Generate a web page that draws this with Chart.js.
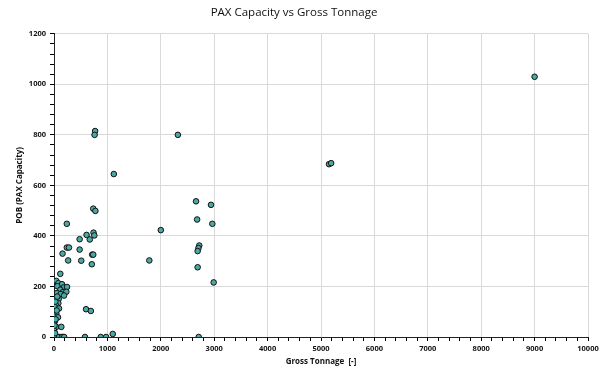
<!DOCTYPE html>
<html>
<head>
<meta charset="utf-8">
<script src="https://cdn.jsdelivr.net/npm/chart.js@4"></script>
<style>
  html, body { margin: 0; padding: 0; background: #fff; }
  #wrap { width: 611px; height: 374px; }
</style>
</head>
<body>
<div id="wrap"><canvas id="paxChart" width="611" height="374"></canvas></div>
<script>
// values (gross tonnage, POB)
const grossTonnage = [
  9000, 770, 760, 2320, 1120, 5150, 5190,
  2660, 2940, 2680, 2965, 2000, 2720, 2705, 2690, 2690, 1785, 2990, 2710,
  735, 775, 240, 610, 740, 755, 670, 480,
  240, 280, 160, 480, 265, 510, 715, 735, 708, 118,
  600, 690, 580, 875, 975, 1100,
  43, 81, 150, 62, 182, 244, 118, 169, 231, 56, 126, 188, 32, 88, 13, 81,
  43, 13, 94, 13, 43, 0, 75, 19, 0, 43, 137, 0, 0, 32, 169, 110, 150, 190,
  60, 0, 20, 10, 30, 50, 25, 60
];
const paxCapacity = [
  1030, 815, 800, 800, 645, 684, 688,
  537, 523, 465, 448, 423, 362, 352, 340, 276, 303, 216, 0,
  508, 499, 448, 404, 413, 402, 386, 387,
  354, 354, 330, 346, 303, 302, 326, 326, 288, 250,
  110, 103, 0, 0, 0, 12,
  222, 213, 209, 201, 196, 198, 187, 178, 179, 174, 170, 164, 157, 151, 137, 134,
  124, 119, 113, 101, 93, 81, 78, 64, 53, 40, 40, 26, 5, 2, 0, 0, 0, 0,
  0, 0, 15, 45, 70, 105, 140, 160
];
const chartTitle = 'PAX Capacity vs Gross Tonnage';
const xTitle = 'Gross Tonnage  [-]';
const yTitle = 'POB (PAX Capacity)';

const points = grossTonnage.map((x, i) => ({x: x, y: paxCapacity[i]}));

const tickFont = {family: 'Open Sans', size: 7.5, weight: 'bold'};
const axisFont = {family: 'Open Sans', size: 8, weight: 'bold'};
const gridColor = (major) => (ctx) =>
  (ctx.tick && ctx.tick.value % major === 0) ? '#d9d9d9' : 'rgba(0,0,0,0)';

var ctx = document.getElementById('paxChart').getContext('2d');
var myChart = new Chart(ctx, {
  type: 'scatter',
  data: {
    datasets: [{
      label: 'POB',
      data: points,
      backgroundColor: '#4aa8a5',
      borderColor: '#111',
      borderWidth: 1,
      pointRadius: 2.8,
      pointHoverRadius: 2.8
    }]
  },
  options: {
    responsive: false,
    animation: false,
    layout: { padding: { left: 0, right: 23, top: 0, bottom: 0 } },
    plugins: {
      legend: { display: false },
      tooltip: { enabled: false },
      title: {
        display: true,
        text: chartTitle,
        color: '#111',
        font: { family: 'Open Sans', size: 11.5, weight: 'normal' },
        padding: { top: 6, bottom: 14 }
      }
    },
    scales: {
      x: {
        type: 'linear',
        min: 0,
        max: 10000,
        afterFit: (s) => { s.height = 37; },
        ticks: {
          stepSize: 200,
          autoSkip: false,
          maxRotation: 0,
          padding: 3,
          color: '#111',
          font: tickFont,
          callback: (v) => (v % 1000 === 0 ? v : '')
        },
        grid: {
          color: gridColor(1000),
          tickColor: '#000',
          tickLength: 4,
          lineWidth: 1
        },
        border: { color: '#222', width: 1 },
        title: {
          display: true,
          text: xTitle,
          color: '#111',
          font: axisFont,
          padding: { top: 7, bottom: 7 }
        }
      },
      y: {
        min: 0,
        max: 1200,
        afterFit: (s) => { s.width = 54; },
        ticks: {
          stepSize: 40,
          autoSkip: false,
          padding: 4,
          color: '#111',
          font: tickFont,
          callback: (v) => (v % 200 === 0 ? v : '')
        },
        grid: {
          color: gridColor(200),
          tickColor: '#000',
          tickLength: 4,
          lineWidth: 1
        },
        border: { color: '#222', width: 1 },
        title: {
          display: true,
          text: yTitle,
          color: '#111',
          font: axisFont,
          padding: { top: 15, bottom: 0 }
        }
      }
    }
  }
});
</script>
</body>
</html>
